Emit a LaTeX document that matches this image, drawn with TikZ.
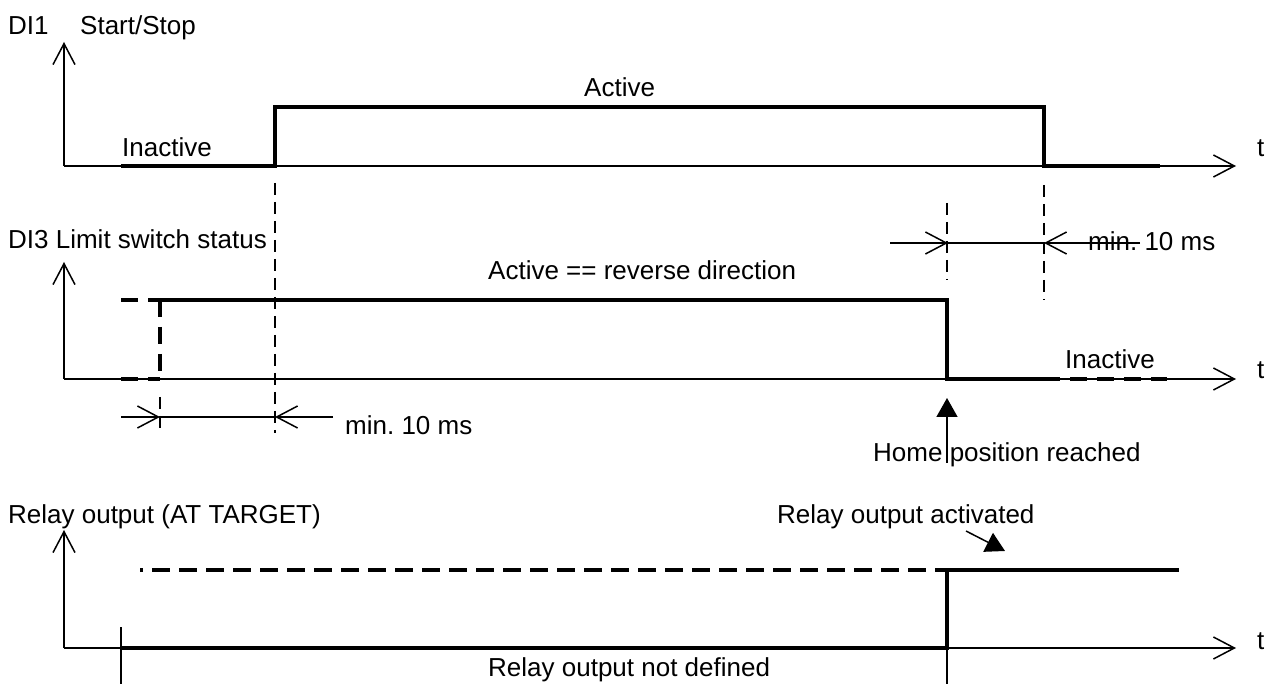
\documentclass[tikz,border=0pt]{standalone}
\usepackage{fontspec}
\setmainfont{Liberation Sans}
\usetikzlibrary{arrows.meta}
\frenchspacing
\begin{document}
\begin{tikzpicture}[x=1pt,y=-1pt,
  axis/.style={line width=1.5pt,-{Straight Barb[length=21pt,width=22pt]}},
  dim/.style={line width=1.5pt,-{Straight Barb[length=21pt,width=22pt]}},
  thinline/.style={line width=1.5pt},
  sig/.style={line width=3.8pt},
  sigdash/.style={sig,dash pattern=on 17pt off 10pt},
  marker/.style={line width=1.5pt,dash pattern=on 12pt off 7pt},
  pointer/.style={line width=1.5pt,-{Triangle[length=19pt,width=21pt]}},
  lbl/.style={anchor=base west,inner sep=0pt,font=\fontsize{26}{30}\selectfont}]
\useasboundingbox (0,0) rectangle (1278,684);

% ---------- DI1 Start/Stop ----------
\coordinate (o1) at (64,166);
\coordinate (y1) at (64,42);
\coordinate (t1) at (1236,166);
\draw[axis] (o1) -- (y1);
\draw[axis] (o1) -- (t1);
\draw[sig] (121,166) -- (275,166) -- (275,107) -- (1044,107) -- (1044,166) -- (1160,166);
\node[lbl] (di1) at (8,35) {DI1};
\node[lbl] (startstop) at (80,35) {Start/Stop};
\node[lbl] (inact1) at (122,157) {Inactive};
\node[lbl] (act1) at (584,97) {Active};
\node[lbl] (tt1) at (1257,157) {t};

% ---------- DI3 Limit switch status ----------
\coordinate (o2) at (64,379);
\coordinate (y2) at (64,262);
\coordinate (t2) at (1236,379);
\draw[axis] (o2) -- (y2);
\draw[axis] (o2) -- (t2);
\draw[sigdash] (121,300) -- (160,300);
\draw[sigdash] (121,379) -- (160,379);
\draw[sigdash] (160,300) -- (160,379);
\draw[sig] (160,300) -- (947,300) -- (947,379) -- (1060,379);
\draw[sigdash,dash phase=17pt] (1060,379) -- (1167,379);
\node[lbl] (di3) at (8,249) {DI3 Limit switch status};
\node[lbl] (act2) at (488,280) {Active == reverse direction};
\node[lbl] (inact2) at (1065,369) {Inactive};
\node[lbl] (tt2) at (1257,379) {t};

% timing markers
\draw[marker] (275,183) -- (275,433);
\draw[marker] (1044,185) -- (1044,300);
\draw[marker] (947,203) -- (947,280);
\draw[marker] (160,397) -- (160,433);

% minimum delay dimensions
\coordinate (da1) at (948,243);
\coordinate (db1) at (1044,243);
\draw[dim] (890,243) -- (da1);
\draw[thinline] (da1) -- (db1);
\draw[dim] (1140,243) -- (db1);
\node[lbl] (min1) at (1088,251) {min. 10 ms};

\coordinate (da2) at (160,417);
\coordinate (db2) at (275,417);
\draw[dim] (121,417) -- (da2);
\draw[thinline] (da2) -- (db2);
\draw[dim] (333,417) -- (db2);
\node[lbl] (min2) at (345,435) {min. 10 ms};

% home position pointer
\coordinate (hp0) at (947,463);
\coordinate (hp1) at (947,398);
\draw[pointer] (hp0) -- (hp1);
\node[lbl] (home) at (873,462) {Home position reached};

% ---------- Relay output ----------
\coordinate (o3) at (64,648);
\coordinate (y3) at (64,530);
\coordinate (t3) at (1236,648);
\draw[axis] (o3) -- (y3);
\draw[axis] (o3) -- (t3);
\draw[sig,dash pattern=on 18pt off 9pt,dash phase=15pt] (140,570) -- (947,570);
\draw[sig] (121,648) -- (947,648) -- (947,570) -- (1179,570);
\draw[thinline] (121,627) -- (121,684);
\draw[thinline] (947,648) -- (947,684);
\node[lbl] (relay) at (8,523) {Relay output (AT TARGET)};
\node[lbl] (relact) at (777,524) {Relay output activated};
\node[lbl] (relund) at (488,676) {Relay output not defined};
\node[lbl] (tt3) at (1257,649) {t};
\coordinate (ra0) at (966,531);
\coordinate (ra1) at (1005,551);
\draw[pointer] (ra0) -- (ra1);
\end{tikzpicture}
\end{document}
